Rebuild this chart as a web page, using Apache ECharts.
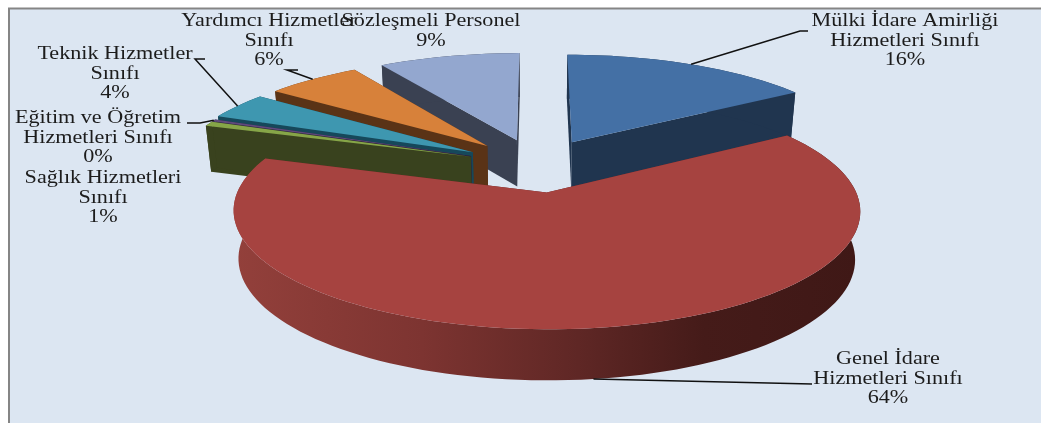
<!DOCTYPE html>
<html><head><meta charset="utf-8">
<style>html,body{margin:0;padding:0;background:#fff;overflow:hidden}#c{width:1041px;height:423px}</style>
<script src="https://cdn.jsdelivr.net/npm/echarts@6/dist/echarts.min.js"></script>
</head><body><div id="c"></div>
<script>
// data, clockwise from 12 o'clock
const categories = ["Mülki İdare Amirliği\nHizmetleri Sınıfı","Genel İdare\nHizmetleri Sınıfı","Sağlık Hizmetleri\nSınıfı","Eğitim ve Öğretim\nHizmetleri Sınıfı","Teknik Hizmetler\nSınıfı","Yardımcı Hizmetler\nSınıfı","Sözleşmeli Personel"];
const values = [16, 64, 0.7, 0.3, 4, 6, 9];
// styles / layout, separate from the data
const topColors  = ["#4470a5","#a64340","#86a548","#5f4a7c","#3e97b0","#d7813a","#93a7cf"];
const wallColors = ["#20354f","#a64340","#39421e","#2c2340","#16485a","#5a3316","#3a4152"];
const explode = [0.25,0.25,0.238,0.24,0.25,0.25,0.25];
const paintOrder = [6,5,4,3,2,0,1];
const labelPos = [[905,21],[888,359],[103,178],[98,118],[115,54],[269,21],[431,21]];
const leaderFrom = [[[808,31],[800,31]],[[812,384]],null,[[187,123],[200,123]],[[205,59],[195,59]],[[298,70],[287,70]],null];
const leaderOnWall = [false,true,false,false,false,false,false];
const view = {cx:537, cy:165, A:298, B:107, p:0.15, T:47};
const lineH = 19.8, fontPx = 18, stretch = 1.23;

const total = values.reduce((a,b)=>a+b,0);
const rad = d=>d*Math.PI/180;
let acc = 0;
const slices = values.map((v,i)=>{const a0=acc/total*360; acc+=v; const a1=acc/total*360; return {a0,a1,m:(a0+a1)/2,e:explode[i]};});
function proj(u,v,z){
  const w=1/(1-view.p*v);
  return [view.cx+view.A*u*w*(1-0.016*z), view.cy+view.B*v*w+z*view.T*Math.pow(w,0.4)];
}
function rimPoint(s,ang,z){
  const ou=s.e*Math.sin(rad(s.m)), ov=-s.e*Math.cos(rad(s.m));
  return proj(ou+Math.sin(rad(ang)), ov-Math.cos(rad(ang)), z);
}
function apex(s,z){
  return proj(s.e*Math.sin(rad(s.m)), -s.e*Math.cos(rad(s.m)), z);
}
function arc(s,z){
  const n=Math.max(2,Math.ceil((s.a1-s.a0)/2)), pts=[];
  for(let i=0;i<=n;i++) pts.push(rimPoint(s,s.a0+(s.a1-s.a0)*i/n,z));
  return pts;
}
const wallGradient = {type:'linear',x:0,y:0,x2:1,y2:0,colorStops:[
  {offset:0,color:'#93403b'},{offset:0.3,color:'#7d3431'},{offset:0.55,color:'#5f2725'},{offset:0.75,color:'#451b19'},{offset:1,color:'#3f1816'}]};

function renderSlice(params){
  const idx=paintOrder[params.dataIndex], s=slices[idx], kids=[];
  const top=arc(s,0), bot=arc(s,1);
  const fillW = idx===1 ? wallGradient : wallColors[idx];
  const cutFill = idx===1 ? '#5f2725' : wallColors[idx];
  const cut=(a,z0)=>({type:'polygon',shape:{points:[apex(s,0),a,z0,apex(s,1)]},style:{fill:cutFill}});
  kids.push(cut(top[0],bot[0]));
  kids.push(cut(top[top.length-1],bot[bot.length-1]));
  kids.push({type:'polygon',shape:{points:top.concat(bot.slice().reverse())},style:{fill:fillW}});
  kids.push({type:'polygon',shape:{points:[apex(s,0)].concat(top)},style:{fill:topColors[idx]}});
  return {type:'group',children:kids};
}
function renderLabel(params){
  const i=params.dataIndex, s=slices[i], kids=[];
  if(leaderFrom[i]){
    const end=rimPoint(s,s.m,leaderOnWall[i]?1:0);
    kids.push({type:'polyline',shape:{points:leaderFrom[i].concat([end])},style:{stroke:'#111',lineWidth:1.5,fill:null}});
  }
  const pct=Math.round(values[i]/total*100)+'%';
  const lines=categories[i].split('\n').concat([pct]);
  lines.forEach((t,k)=>kids.push({type:'text',x:labelPos[i][0],y:labelPos[i][1]+k*lineH,scaleX:stretch,
    style:{text:t,x:0,y:0,align:'center',verticalAlign:'middle',fill:'#1c1c1c',font:fontPx+'px "Liberation Serif"'}}));
  return {type:'group',children:kids};
}
const chart=echarts.init(document.getElementById('c'),null,{renderer:'canvas'});
chart.setOption({
  animation:false,
  backgroundColor:'#fff',
  graphic:[{type:'rect',z:-1,shape:{x:9,y:8.5,width:1100,height:500},style:{fill:'#dce6f2',stroke:'#858585',lineWidth:2}}],
  series:[
    {type:'custom',coordinateSystem:'none',silent:true,z:2,data:paintOrder.map(i=>values[i]),renderItem:renderSlice},
    {type:'custom',coordinateSystem:'none',silent:true,z:3,data:values,renderItem:renderLabel}
  ]
});
</script></body></html>
